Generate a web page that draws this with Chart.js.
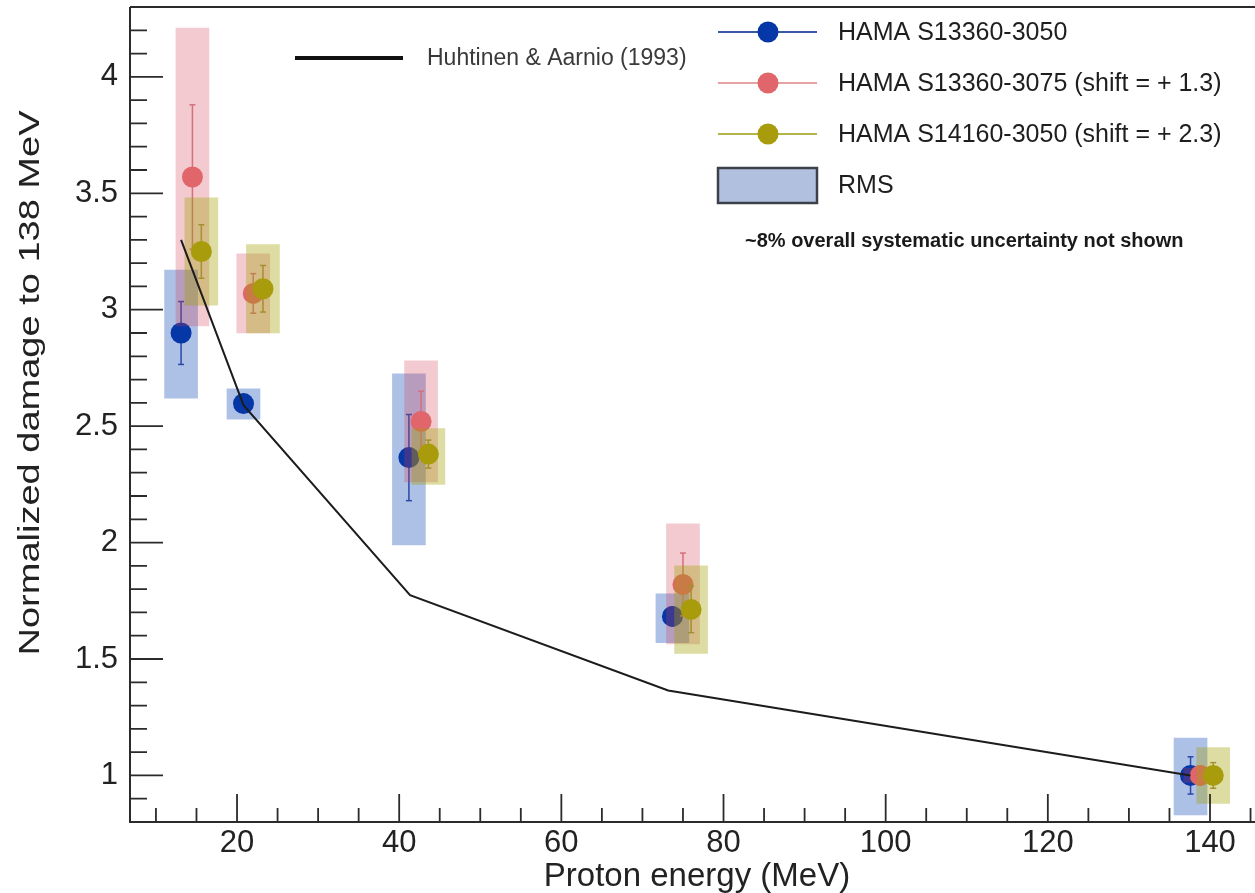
<!DOCTYPE html>
<html>
<head>
<meta charset="utf-8">
<script src="https://cdn.jsdelivr.net/npm/chart.js@4.4.0/dist/chart.umd.min.js"></script>
<style>
  html, body { margin: 0; padding: 0; background: #ffffff; }
  #wrap { width: 1255px; height: 893px; position: relative; }
</style>
</head>
<body>
<div id="wrap"><canvas id="c" width="1255" height="893"></canvas></div>
<script>
// ---------------- data ----------------
const seriesNames = ['HAMA S13360-3050', 'HAMA S13360-3075 (shift = + 1.3)', 'HAMA S14160-3050 (shift = + 2.3)'];
const rmsLabel = 'RMS';
const noteText = '~8% overall systematic uncertainty not shown';
const modelName = 'Huhtinen & Aarnio (1993)';
const xTitle = 'Proton energy (MeV)';
const yTitle = 'Normalized damage to 138 MeV';

// HAMA S13360-3050
const blueX   = [13.1, 20.8, 41.2, 73.7, 137.6];
const blueY   = [2.90, 2.597, 2.365, 1.683, 1.00];
const blueErr = [0.135, 0.03, 0.185, 0.04, 0.08];
const blueRmsLo = [2.62, 2.53, 1.99, 1.57, 0.83];
const blueRmsHi = [3.17, 2.66, 2.725, 1.78, 1.16];

// HAMA S13360-3075 (shift = +1.3)
const redX   = [14.5, 22.0, 42.7, 75.0, 138.8];
const redY   = [3.57, 3.07, 2.52, 1.82, 1.00];
const redErr = [0.31, 0.085, 0.13, 0.135, 0.04];
const redRmsLo = [2.93, 2.90, 2.26, 1.565, 0.97];
const redRmsHi = [4.21, 3.24, 2.78, 2.08, 1.03];

// HAMA S14160-3050 (shift = +2.3)
const oliveX   = [15.6, 23.2, 43.6, 76.0, 140.4];
const oliveY   = [3.25, 3.09, 2.38, 1.713, 1.00];
const oliveErr = [0.115, 0.10, 0.06, 0.10, 0.055];
const oliveRmsLo = [3.02, 2.90, 2.25, 1.524, 0.88];
const oliveRmsHi = [3.48, 3.28, 2.49, 1.90, 1.12];

// Huhtinen & Aarnio (1993)
const modelX = [13.1, 20.8, 41.34, 73.17, 137.6];
const modelY = [3.30, 2.59, 1.774, 1.365, 1.00];

// ticks
const xMajorTicks = [20, 40, 60, 80, 100, 120, 140];
const xTickLabels = ['20', '40', '60', '80', '100', '120', '140'];
const xMinorTicks = [10, 15, 25, 30, 35, 45, 50, 55, 65, 70, 75, 85, 90, 95, 105, 110, 115, 125, 130, 135, 145];
const yMajorTicks = [1, 1.5, 2, 2.5, 3, 3.5, 4];
const yTickLabels = ['1', '1.5', '2', '2.5', '3', '3.5', '4'];
const yMinorTicks = [0.9, 1.1, 1.2, 1.3, 1.4, 1.6, 1.7, 1.8, 1.9, 2.1, 2.2, 2.3, 2.4, 2.6, 2.7, 2.8, 2.9,
                     3.1, 3.2, 3.3, 3.4, 3.6, 3.7, 3.8, 3.9, 4.1, 4.2];

// ---------------- styles ----------------
const FONT = '"Liberation Sans", Arial, Helvetica, sans-serif';
const markerColors = ['#0637a6', '#e0666c', '#a89c0c'];
const errColors    = ['#2a48a8', '#d4707c', '#a39030'];
const boxColors    = ['rgba(40,90,190,0.38)', 'rgba(210,60,80,0.27)', 'rgba(160,160,0,0.36)'];
const legendLineColors = ['#3a58a8', '#e8a2a2', '#b4b448'];

function points(xs, ys) { return xs.map((x, i) => ({ x: x, y: ys[i] })); }
function boxes(xs, lo, hi) { return xs.map((x, i) => ({ x: x, y: [lo[i], hi[i]] })); }
function errs(xs, ys, es) {
  const out = [];
  xs.forEach((x, i) => {
    out.push({ x: x, y: ys[i] - es[i] });
    out.push({ x: x, y: ys[i] + es[i] });
    out.push({ x: x, y: null });
  });
  return out;
}

const series = [
  { x: blueX, y: blueY, e: blueErr, lo: blueRmsLo, hi: blueRmsHi },
  { x: redX, y: redY, e: redErr, lo: redRmsLo, hi: redRmsHi },
  { x: oliveX, y: oliveY, e: oliveErr, lo: oliveRmsLo, hi: oliveRmsHi }
];

const datasets = [];
series.forEach((s, k) => {
  const base = 9 - 3 * k; // blue drawn first, olive later (higher order = drawn earlier)
  datasets.push({
    type: 'bar', label: seriesNames[k] + ' RMS',
    data: boxes(s.x, s.lo, s.hi),
    backgroundColor: boxColors[k], borderWidth: 0,
    barThickness: 33, grouped: false, order: base
  });
  datasets.push({
    type: 'line', label: seriesNames[k] + ' err',
    data: errs(s.x, s.y, s.e),
    borderColor: errColors[k], borderWidth: 1.5,
    pointStyle: 'line', pointRadius: 3, pointBorderWidth: 1.5,
    pointBorderColor: errColors[k], pointBackgroundColor: errColors[k],
    spanGaps: false, fill: false, tension: 0, order: base - 1
  });
  datasets.push({
    type: 'scatter', label: seriesNames[k],
    data: points(s.x, s.y),
    backgroundColor: markerColors[k], borderWidth: 0,
    pointRadius: 10.5, pointHoverRadius: 10.5, showLine: false, order: base - 2
  });
});
datasets.push({
  type: 'line', label: modelName,
  data: points(modelX, modelY),
  borderColor: '#1c1c1c', borderWidth: 2, pointRadius: 0,
  tension: 0, fill: false, order: 0
});

// ---------------- plugins ----------------
const frameAndTicks = {
  id: 'frameAndTicks',
  afterDraw(chart) {
    const ctx = chart.ctx;
    const a = chart.chartArea;
    const xs = chart.scales.x, ys = chart.scales.y;
    ctx.save();
    ctx.strokeStyle = '#2b2b2b';
    ctx.lineWidth = 2;
    ctx.beginPath();
    ctx.moveTo(a.left, a.top); ctx.lineTo(a.right + 2, a.top);
    ctx.moveTo(a.left, a.top); ctx.lineTo(a.left, a.bottom);
    ctx.moveTo(a.left - 1, a.bottom); ctx.lineTo(a.right + 2, a.bottom);
    ctx.stroke();
    ctx.lineWidth = 1.8;
    ctx.beginPath();
    xMajorTicks.forEach(v => { const p = xs.getPixelForValue(v); ctx.moveTo(p, a.bottom); ctx.lineTo(p, a.bottom - 28); });
    xMinorTicks.forEach(v => { const p = xs.getPixelForValue(v); ctx.moveTo(p, a.bottom); ctx.lineTo(p, a.bottom - 14); });
    yMajorTicks.forEach(v => { const p = ys.getPixelForValue(v); ctx.moveTo(a.left, p); ctx.lineTo(a.left + 33, p); });
    yMinorTicks.forEach(v => { const p = ys.getPixelForValue(v); ctx.moveTo(a.left, p); ctx.lineTo(a.left + 17, p); });
    ctx.stroke();
    ctx.restore();
  }
};

const legendAndTitles = {
  id: 'legendAndTitles',
  afterDraw(chart) {
    const ctx = chart.ctx;
    ctx.save();
    // model legend
    ctx.strokeStyle = '#111111';
    ctx.lineWidth = 4;
    ctx.beginPath(); ctx.moveTo(295, 58); ctx.lineTo(403, 58); ctx.stroke();
    ctx.fillStyle = '#3a3a3a';
    ctx.font = '23px ' + FONT;
    ctx.textAlign = 'left'; ctx.textBaseline = 'middle';
    ctx.fillText(modelName, 427, 59);

    // series legend
    const rows = [32, 83, 134];
    rows.forEach((yy, k) => {
      ctx.strokeStyle = legendLineColors[k];
      ctx.lineWidth = 2;
      ctx.beginPath(); ctx.moveTo(718, yy); ctx.lineTo(817, yy); ctx.stroke();
      ctx.fillStyle = markerColors[k];
      ctx.beginPath(); ctx.arc(768, yy, 10.5, 0, Math.PI * 2); ctx.fill();
      ctx.fillStyle = '#1e1e1e';
      ctx.font = '25px ' + FONT;
      ctx.fillText(seriesNames[k], 838, yy + 1);
    });
    // RMS
    ctx.fillStyle = '#b2c0e0';
    ctx.fillRect(718, 168, 99, 35);
    ctx.strokeStyle = '#3c4048';
    ctx.lineWidth = 2.5;
    ctx.strokeRect(718, 168, 99, 35);
    ctx.fillStyle = '#1e1e1e';
    ctx.font = '25px ' + FONT;
    ctx.fillText(rmsLabel, 838, 186);
    // note
    ctx.font = 'bold 20px ' + FONT;
    ctx.fillStyle = '#1a1a1a';
    ctx.fillText(noteText, 745, 241);

    // axis titles
    ctx.fillStyle = '#222222';
    ctx.font = '33px ' + FONT;
    ctx.textAlign = 'center';
    ctx.fillText(xTitle, 697, 877);

    ctx.save();
    ctx.translate(31, 383);
    ctx.rotate(-Math.PI / 2);
    ctx.font = '30px ' + FONT;
    const w = ctx.measureText(yTitle).width;
    ctx.scale(545 / w, 1);
    ctx.fillText(yTitle, 0, 0);
    ctx.restore();

    ctx.restore();
  }
};

// ---------------- chart ----------------
new Chart(document.getElementById('c'), {
  type: 'scatter',
  data: { datasets: datasets },
  options: {
    responsive: false,
    animation: false,
    devicePixelRatio: 1,
    layout: { autoPadding: false, padding: { top: 7, right: 0, left: 0, bottom: 0 } },
    plugins: { legend: { display: false }, tooltip: { enabled: false } },
    scales: {
      x: {
        type: 'linear', min: 6.8, max: 145.55, offset: false,
        grid: { display: false, drawTicks: false, offset: false },
        border: { display: false },
        ticks: {
          autoSkip: false, maxRotation: 0, padding: 3, color: '#222222',
          font: { family: FONT, size: 31 },
          callback: (v, i) => xTickLabels[i]
        },
        afterBuildTicks: s => { s.ticks = xMajorTicks.map(v => ({ value: v })); },
        afterFit: s => { s.height = 71; s.paddingLeft = 0; s.paddingRight = 0; s.paddingTop = 0; s.paddingBottom = 0; }
      },
      y: {
        type: 'linear', min: 0.8, max: 4.3, beginAtZero: false,
        grid: { display: false, drawTicks: false },
        border: { display: false },
        ticks: {
          autoSkip: false, padding: 12, color: '#222222',
          font: { family: FONT, size: 31 },
          callback: (v, i) => yTickLabels[i]
        },
        afterBuildTicks: s => { s.ticks = yMajorTicks.map(v => ({ value: v })); },
        afterFit: s => { s.width = 130; s.paddingTop = 0; s.paddingBottom = 0; s.paddingLeft = 0; s.paddingRight = 0; }
      }
    }
  },
  plugins: [frameAndTicks, legendAndTitles]
});
</script>
</body>
</html>
